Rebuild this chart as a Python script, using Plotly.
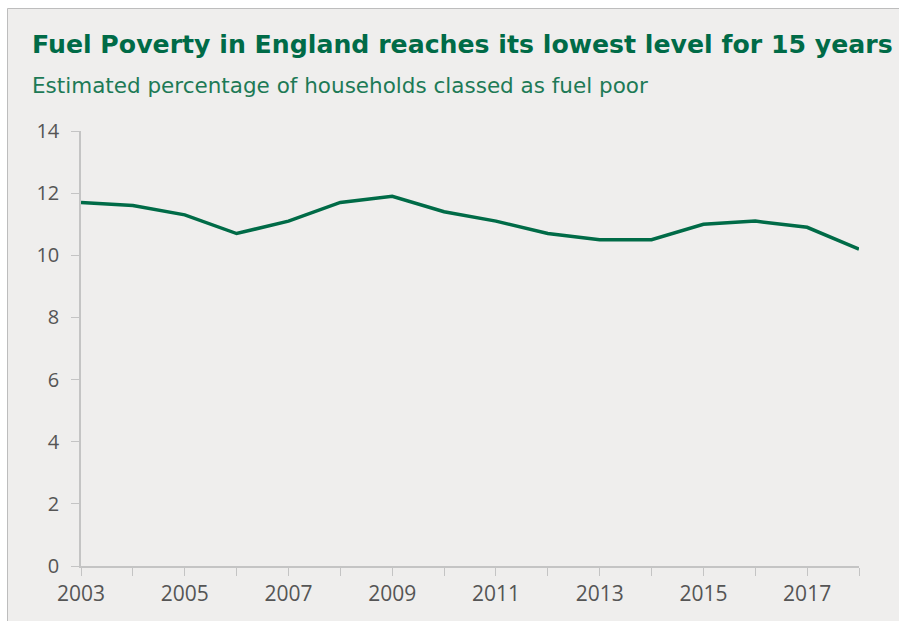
import plotly.graph_objects as go

years = list(range(2003, 2019))
fuel_poor_pct = [11.7, 11.6, 11.3, 10.7, 11.1, 11.7, 11.9, 11.4, 11.1, 10.7, 10.5, 10.5, 11.0, 11.1, 10.9, 10.2]
x_tick_vals = list(range(2003, 2019, 2))
y_tick_vals = list(range(0, 15, 2))

title_text = "Fuel Poverty in England reaches its lowest level for 15 years"
subtitle_text = "Estimated percentage of households classed as fuel poor"

GREEN = "#006b47"
AXIS = "#c4c4c4"
TICKFONT = "#555555"

fig = go.Figure()
fig.add_trace(go.Scatter(x=years, y=fuel_poor_pct, mode="lines",
                         line=dict(color=GREEN, width=3.5), hoverinfo="x+y"))

fig.update_layout(
    width=899, height=621,
    paper_bgcolor="white", plot_bgcolor="rgba(0,0,0,0)",
    margin=dict(l=81, r=40, t=131, b=55),
    showlegend=False,
    shapes=[dict(type="rect", xref="paper", yref="paper",
                 x0=-73.5/778, x1=1.2, y0=-0.3, y1=(621-8.5-55)/435,
                 fillcolor="#efeeed", line=dict(color="#bdbdbd", width=1), layer="below")],
    annotations=[
        dict(text="<b>" + title_text + "</b>", xref="paper", yref="paper",
             x=(30-81)/778, y=(621-55-44)/435, xanchor="left", yanchor="middle",
             showarrow=False, font=dict(family="DejaVu Sans", size=25.2, color=GREEN)),
        dict(text=subtitle_text, xref="paper", yref="paper",
             x=(30-81)/778, y=(621-55-85)/435, xanchor="left", yanchor="middle",
             showarrow=False, font=dict(family="DejaVu Sans", size=21.5, color="#1d7a56")),
    ],
)
fig.update_xaxes(range=[2003, 2018], tickvals=x_tick_vals, ticks="outside", ticklen=8,
                 tickcolor=AXIS, showline=True, linecolor=AXIS, linewidth=1.5,
                 showgrid=False, zeroline=False,
                 minor=dict(dtick=1, tick0=2003, ticks="outside", ticklen=8, tickcolor=AXIS, showgrid=False),
                 tickfont=dict(family="Open Sans", size=21, color=TICKFONT))
fig.update_yaxes(range=[0, 14], tickvals=y_tick_vals, ticks="outside", ticklen=8,
                 tickcolor=AXIS, showline=True, linecolor=AXIS, linewidth=1.5,
                 showgrid=False, zeroline=False, ticklabelstandoff=8,
                 tickfont=dict(family="Open Sans", size=20, color=TICKFONT))

fig.write_html("out.html", config={"displayModeBar": False},
               post_script="document.body.style.margin='0';document.body.style.padding='0';")
